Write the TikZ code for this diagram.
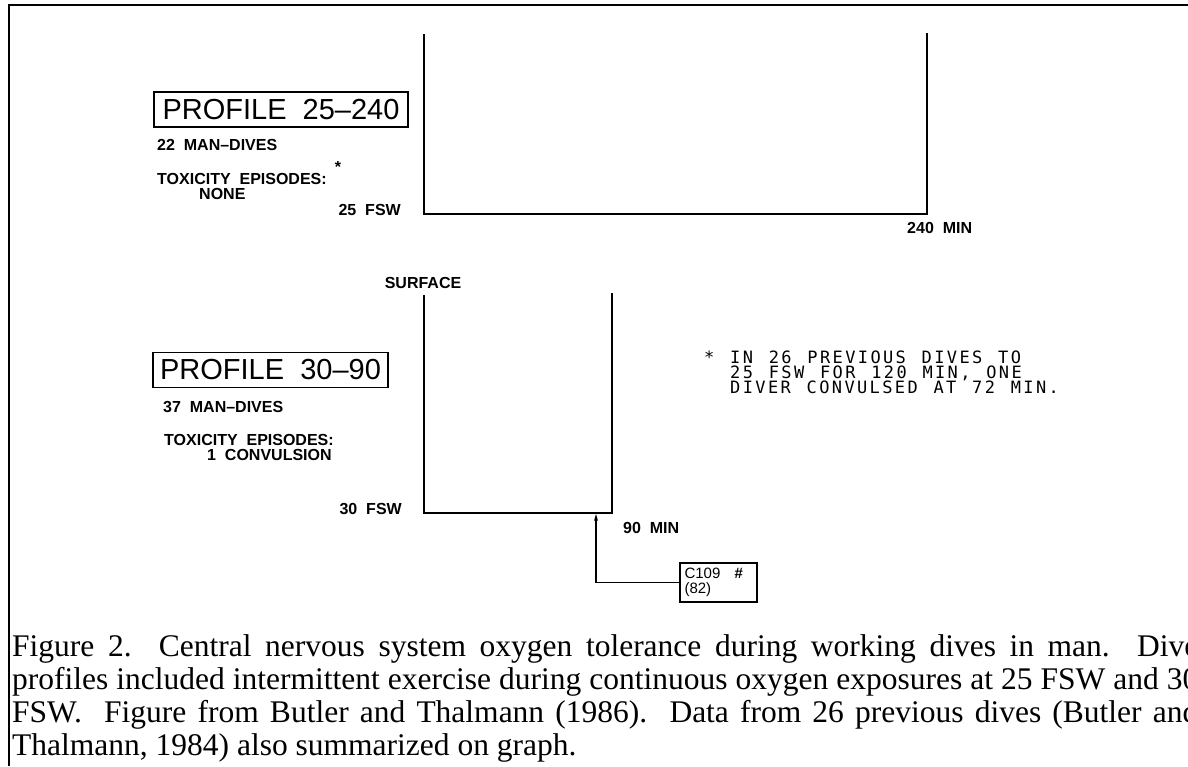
\documentclass[tikz,border=0pt]{standalone}
\usepackage{fontspec}
\setmainfont{Liberation Serif}
\newfontfamily\plotfont{Liberation Sans}
\newfontfamily\notefont[LetterSpace=14,WordSpace=1.25]{DejaVu Sans Mono}
\usetikzlibrary{arrows.meta}

\begin{document}
\begin{tikzpicture}[x=1pt,y=-1pt,
   every node/.style={inner sep=0pt,font=\plotfont\bfseries\fontsize{16}{16}\selectfont},
   lbl/.style={anchor=base west},
   lble/.style={anchor=base east},
   trace/.style={line width=1.8pt},
   frame/.style={line width=2pt},
   profbox/.style={draw,line width=1.2pt,minimum height=35pt,font=\plotfont\fontsize{29}{30}\selectfont},
   note/.style={anchor=base west,font=\notefont\fontsize{17}{17}\selectfont},
   cbox/.style={draw,line width=1.2pt,align=left,text width=68pt,minimum width=77pt,minimum height=39pt,inner xsep=4pt,font=\plotfont\fontsize{15}{15.5}\selectfont},
   caption/.style={anchor=base west,font=\fontsize{31.5}{33}\selectfont}]
   \useasboundingbox (0,0) rectangle (1188,766);
   \clip (0,0) rectangle (1188,766);
   \draw [frame] (8,5) -- (1188,5);
   \draw [frame] (9,5) -- (9,766);

   \draw [trace] (424,34) -- (424,214) -- (927,214) -- (927,33);
   \node [profbox,minimum width=254pt] (prof1) at (281,109.5) {PROFILE~~25–240};
   \node [lbl] (dives1) at (157,150) {22~~MAN–DIVES};
   \node [lbl] (tox1) at (157,184) {TOXICITY~~EPISODES:};
   \node [lbl] (none1) at (199,199) {NONE};
   \node [anchor=base] (star1) at (338,172) {*};
   \node [lble] (fsw1) at (401,215) {25~~FSW};
   \node [lbl] (min1) at (907,233) {240~~MIN};

   \node [anchor=base] (surf) at (423,288) {SURFACE};
   \draw [trace] (424,295) -- (424,513) -- (612,513) -- (612,293);
   \node [profbox,minimum width=235pt] (prof2) at (270.5,370) {PROFILE~~30–90};
   \node [lbl] (dives2) at (163,412) {37~~MAN–DIVES};
   \node [lbl] (tox2) at (164,445) {TOXICITY~~EPISODES:};
   \node [lbl] (conv2) at (207,460) {1~~CONVULSION};
   \node [lble] (fsw2) at (402,514) {30~~FSW};
   \node [lbl] (min2) at (623,533) {90~~MIN};

   \node [cbox] (c109) at (718.5,582.5) {C109\hspace{14pt}\textbf{\textit{\#}}\\(82)};
   \coordinate (hit) at (596,514);
   \draw [line width=1.2pt,-{Stealth[length=7pt,width=4pt]}] (c109.west) -| (hit);

   \node [note] (note1) at (704,363) {* IN 26 PREVIOUS DIVES TO};
   \node [note] (note2) at (730,378) {25 FSW FOR 120 MIN, ONE};
   \node [note] (note3) at (730,393) {DIVER CONVULSED AT 72 MIN.};

   \node [caption] (cap1) at (12,656) {\makebox[1186pt][s]{Figure 2.\ \ Central nervous system oxygen tolerance during working dives in man.\ \ Dive}};
   \node [caption] (cap2) at (12,689) {\makebox[1186pt][s]{profiles included intermittent exercise during continuous oxygen exposures at 25 FSW and 30}};
   \node [caption] (cap3) at (12,722) {\makebox[1186pt][s]{FSW.\ \ Figure from Butler and Thalmann (1986).\ \ Data from 26 previous dives (Butler and}};
   \node [caption] (cap4) at (12,755) {Thalmann, 1984) also summarized on graph.};
\end{tikzpicture}
\end{document}
